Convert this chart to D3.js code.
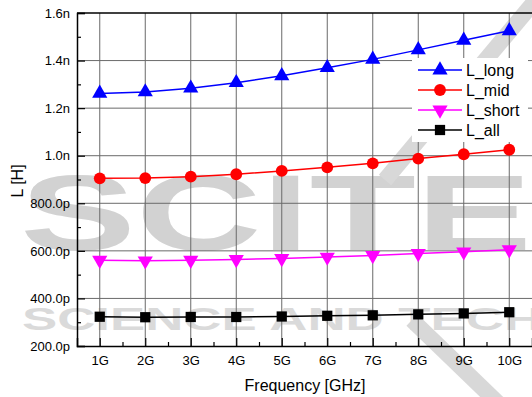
<!DOCTYPE html>
<html><head><meta charset="utf-8">
<script src="https://cdn.jsdelivr.net/npm/d3@7"></script>
<style>body{margin:0;background:#fff}svg{display:block;font-family:"Liberation Sans",Arial,sans-serif}</style>
</head><body><svg id="c" width="532" height="397"></svg>
<script>
const categories = ["1G","2G","3G","4G","5G","6G","7G","8G","9G","10G"];
const freq = [1,2,3,4,5,6,7,8,9,10];
const L_long  = [1.262,1.268,1.284,1.307,1.336,1.370,1.405,1.445,1.485,1.525];
const L_mid   = [0.905,0.906,0.912,0.922,0.936,0.951,0.968,0.988,1.006,1.025];
const L_short = [0.561,0.558,0.561,0.564,0.568,0.574,0.581,0.589,0.596,0.605];
const L_all   = [0.323,0.321,0.322,0.322,0.324,0.327,0.329,0.333,0.337,0.342];
const yTicks = [0.2,0.4,0.6,0.8,1.0,1.2,1.4,1.6];
const yTickLabels = ["200.0p","400.0p","600.0p","800.0p","1.0n","1.2n","1.4n","1.6n"];
const seriesNames = ["L_long","L_mid","L_short","L_all"];

const svg = d3.select("#c");
const x = d3.scaleLinear().domain([0.5,10.5]).range([77,532]);
const y = d3.scaleLinear().domain([0.2,1.6]).range([346,13]);

// watermark
const wm = svg.append("g");
wm.append("text").attr("x",20).attr("y",250).attr("textLength",512).attr("lengthAdjust","spacingAndGlyphs")
  .attr("font-size",108).attr("font-weight","bold").attr("fill","#d2d2d2").text("SCITE");
wm.append("text").attr("x",22).attr("y",330).attr("textLength",520).attr("lengthAdjust","spacingAndGlyphs")
  .attr("font-size",32).attr("font-weight","bold").attr("fill","#dadada").text("SCIENCE AND TECH");
wm.append("line").attr("x1",540).attr("y1",-5).attr("x2",385).attr("y2",180).attr("stroke","#d8d8d8").attr("stroke-width",16);
wm.append("line").attr("x1",412).attr("y1",320).attr("x2",500).attr("y2",405).attr("stroke","#d8d8d8").attr("stroke-width",16);

// grid
const g = svg.append("g");
g.selectAll(".gx").data(freq).join("line").attr("x1",d=>x(d)).attr("x2",d=>x(d)).attr("y1",y(0.2)).attr("y2",y(1.6))
  .attr("stroke","#6a6a6a").attr("stroke-width",1);
g.selectAll(".gy").data(yTicks.slice(1,-1)).join("line").attr("x1",x(0.5)).attr("x2",x(10.5)).attr("y1",d=>y(d)).attr("y2",d=>y(d))
  .attr("stroke","#6a6a6a").attr("stroke-width",1);

// axes
const yAxis = d3.axisLeft(y).tickValues(yTicks).tickSize(-8).tickPadding(7).tickFormat((d,i)=>yTickLabels[i]);
svg.append("g").attr("transform",`translate(${x(0.5)},0)`).call(yAxis);
const yMinor = [];
for (let v=0.3; v<1.6; v+=0.2) yMinor.push(+v.toFixed(2));
svg.append("g").attr("transform",`translate(${x(0.5)},0)`).call(d3.axisLeft(y).tickValues(yMinor).tickSize(-4).tickFormat(""))
  .call(s=>s.select(".domain").remove());
const xAxis = d3.axisBottom(x).tickValues(freq).tickSize(-8).tickPadding(10).tickFormat((d,i)=>categories[i]);
svg.append("g").attr("transform",`translate(0,${y(0.2)})`).call(xAxis);
const xMinor = freq.map(d=>d+0.5).slice(0,9);
svg.append("g").attr("transform",`translate(0,${y(0.2)})`).call(d3.axisBottom(x).tickValues(xMinor).tickSize(-4).tickFormat(""))
  .call(s=>s.select(".domain").remove());
svg.selectAll(".domain").attr("stroke","#000").attr("stroke-width",1.5);
svg.selectAll(".tick line").attr("stroke","#000").attr("stroke-width",1.2);
svg.selectAll(".tick text").attr("font-size",13).attr("fill","#000").attr("font-family","Liberation Sans, Arial, sans-serif");
svg.append("line").attr("x1",x(0.5)).attr("x2",x(10.5)).attr("y1",y(1.6)).attr("y2",y(1.6)).attr("stroke","#000").attr("stroke-width",1.5);

// titles
svg.append("text").attr("x",305).attr("y",391).attr("text-anchor","middle").attr("font-size",16).text("Frequency [GHz]");
svg.append("text").attr("transform","translate(23,181) rotate(-90)").attr("text-anchor","middle").attr("font-size",16).text("L [H]");

// series
const series = [
  {name:"L_long", vals:L_long, color:"#0000ff", sym:d3.symbolTriangle, size:100, rot:0},
  {name:"L_mid", vals:L_mid, color:"#ff0000", sym:d3.symbolCircle, size:110, rot:0},
  {name:"L_short", vals:L_short, color:"#ff00ff", sym:d3.symbolTriangle, size:100, rot:180},
  {name:"L_all", vals:L_all, color:"#000000", sym:d3.symbolSquare, size:105, rot:0}
];
const line = d3.line().x((d,i)=>x(freq[i])).y(d=>y(d));

const lg = svg.append("g");
series.forEach(s=>{
  svg.append("path").datum(s.vals).attr("d",line).attr("fill","none").attr("stroke",s.color).attr("stroke-width",1.5);
});
lg.append("rect").attr("x",412).attr("y",58).attr("width",116).attr("height",84).attr("fill","#fff");
series.forEach(s=>{
  svg.append("g").selectAll("path").data(s.vals).join("path")
    .attr("d",d3.symbol().type(s.sym).size(s.size))
    .attr("transform",(d,i)=>`translate(${x(freq[i])},${y(d)}) rotate(${s.rot})`)
    .attr("fill",s.color);
});
series.forEach((s,i)=>{
  const yy = 70 + i*20;
  lg.append("line").attr("x1",418).attr("x2",462).attr("y1",yy).attr("y2",yy).attr("stroke",s.color).attr("stroke-width",1.5);
  lg.append("path").attr("d",d3.symbol().type(s.sym).size(s.size)).attr("transform",`translate(440,${yy}) rotate(${s.rot})`).attr("fill",s.color);
  lg.append("text").attr("x",466).attr("y",yy+6).attr("font-size",16).text(s.name);
});
</script></body></html>
